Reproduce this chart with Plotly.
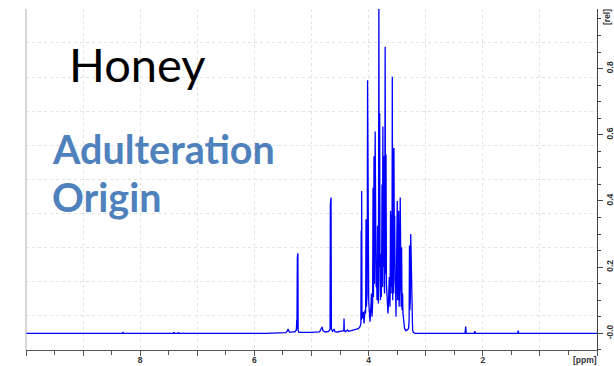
import plotly.graph_objects as go

# ---- data: 1H NMR spectrum of honey (vertices) ----
ppm = [10.00, 8.31, 8.30, 8.29, 7.42, 7.41, 7.40, 7.34, 7.33, 7.32, 5.80, 5.45,
       5.42, 5.41, 5.40, 5.38, 5.33, 5.29, 5.265, 5.258, 5.255, 5.248, 5.244, 5.238,
       5.234, 5.22, 5.10, 5.00, 4.86, 4.83, 4.815, 4.80, 4.76, 4.70, 4.675, 4.670,
       4.664, 4.658, 4.652, 4.63, 4.605, 4.59, 4.54, 4.50, 4.435, 4.430, 4.425, 4.40,
       4.37, 4.35, 4.30, 4.25, 4.21, 4.18, 4.15, 4.135, 4.130, 4.126, 4.121, 4.116,
       4.10, 4.092, 4.08, 4.063, 4.052, 4.045, 4.038, 4.025, 4.018, 4.012, 4.005, 3.998,
       3.985, 3.975, 3.96, 3.950, 3.94, 3.930, 3.922, 3.915, 3.905, 3.897, 3.885, 3.877,
       3.868, 3.860, 3.852, 3.843, 3.835, 3.828, 3.820, 3.814, 3.806, 3.800, 3.792, 3.785,
       3.778, 3.770, 3.765, 3.758, 3.750, 3.742, 3.735, 3.728, 3.720, 3.710, 3.703, 3.695,
       3.688, 3.680, 3.672, 3.660, 3.650, 3.638, 3.625, 3.615, 3.606, 3.598, 3.590, 3.585,
       3.578, 3.570, 3.562, 3.556, 3.549, 3.543, 3.535, 3.528, 3.520, 3.512, 3.505, 3.498,
       3.490, 3.480, 3.473, 3.466, 3.455, 3.446, 3.438, 3.430, 3.422, 3.414, 3.405, 3.398,
       3.385, 3.370, 3.350, 3.320, 3.300, 3.290, 3.284, 3.278, 3.270, 3.262, 3.255, 3.248,
       3.240, 3.230, 3.215, 3.19, 2.31, 2.30, 2.29, 2.15, 2.14, 2.13, 1.39, 1.38,
       1.37, 0.00]
intensity = [0.000, 0.000, 0.004, 0.000, 0.000, 0.003, 0.000, 0.000, 0.003, 0.000, 0.000, 0.002,
             0.008, 0.013, 0.008, 0.003, 0.004, 0.004, 0.010, 0.040, 0.012, 0.228, 0.015, 0.242,
             0.008, 0.003, 0.002, 0.003, 0.004, 0.012, 0.019, 0.008, 0.004, 0.006, 0.012, 0.388,
             0.020, 0.410, 0.012, 0.006, 0.013, 0.005, 0.004, 0.006, 0.008, 0.045, 0.008, 0.005,
             0.010, 0.006, 0.008, 0.010, 0.013, 0.014, 0.020, 0.030, 0.310, 0.040, 0.430, 0.045,
             0.050, 0.065, 0.030, 0.070, 0.060, 0.345, 0.080, 0.120, 0.765, 0.300, 0.665, 0.100,
             0.060, 0.035, 0.080, 0.120, 0.050, 0.090, 0.440, 0.110, 0.535, 0.150, 0.610, 0.210,
             0.140, 0.170, 0.100, 0.325, 0.120, 0.090, 1.000, 0.200, 0.665, 0.170, 0.100, 0.240,
             0.110, 0.250, 0.450, 0.140, 0.625, 0.200, 0.535, 0.150, 0.120, 0.866, 0.180, 0.540,
             0.150, 0.130, 0.100, 0.060, 0.100, 0.170, 0.080, 0.370, 0.120, 0.360, 0.140, 0.775,
             0.100, 0.560, 0.120, 0.560, 0.200, 0.355, 0.160, 0.140, 0.050, 0.210, 0.120, 0.400,
             0.100, 0.170, 0.370, 0.080, 0.140, 0.410, 0.100, 0.080, 0.260, 0.070, 0.120, 0.060,
             0.035, 0.015, 0.008, 0.010, 0.015, 0.040, 0.265, 0.070, 0.100, 0.300, 0.230, 0.120,
             0.040, 0.010, 0.002, 0.000, 0.000, 0.020, 0.000, 0.000, 0.006, 0.000, 0.000, 0.008,
             0.000, 0.000]

x_tick_vals = [10, 9, 8, 7, 6, 5, 4, 3, 2, 1, 0]
x_tick_text = ["", "", "8", "", "6", "", "4", "", "2", "", ""]
y_tick_vals = [0.0, 0.2, 0.4, 0.6, 0.8]
y_tick_text = ["-0.0", "0.2", "0.4", "0.6", "0.8"]
grid_levels = [0, 1, 2, 3, 4, 5, 6, 7, 8]

W, H = 614, 366
L, R, T, B = 26, 17, 9, 16
pw, ph = W - L - R, H - T - B

def px(xp):
    return (xp - L) / pw

def py(yp):
    return (H - B - yp) / ph

tick_font = dict(family="Liberation Sans", size=8.5, color="#333333", weight="bold")
grid_color = "#e3e3e3"

fig = go.Figure()
# invisible trace carrying the independent horizontal grid
fig.add_trace(go.Scatter(x=[5], y=[0], yaxis="y2", mode="markers",
                         marker=dict(opacity=0), hoverinfo="skip", showlegend=False))
fig.add_trace(go.Scatter(x=ppm, y=intensity, mode="lines",
                         line=dict(color="#0000FF", width=1.3), showlegend=False))

fig.update_layout(
    template="none",
    width=W, height=H, margin=dict(l=L, r=R, t=T, b=B, autoexpand=False),
    paper_bgcolor="white", plot_bgcolor="white",
    xaxis=dict(range=[10, 0], automargin=False, tickmode="array",
               tickvals=x_tick_vals, ticktext=x_tick_text, ticklabelstandoff=-3,
               showgrid=True, gridcolor=grid_color, griddash="dot", gridwidth=1,
               zeroline=False, showline=True, linecolor="#555555", linewidth=1,
               ticks="outside", ticklen=5, tickcolor="#555555", tickfont=tick_font,
               minor=dict(tickmode="linear", tick0=0, dtick=0.5, ticks="outside", ticklen=4,
                          tickcolor="#555555", showgrid=False)),
    yaxis=dict(range=[-0.0505, 0.98], automargin=False, side="right", tickmode="array",
               tickvals=y_tick_vals, ticktext=y_tick_text, tickangle=-90,
               showgrid=False, zeroline=False, showline=True, linecolor="#444444", linewidth=1,
               ticks="outside", ticklen=5, tickcolor="#444444", tickfont=tick_font,
               minor=dict(tickmode="linear", tick0=0, dtick=0.05, ticks="outside", ticklen=3,
                          tickcolor="#444444", showgrid=False)),
    yaxis2=dict(overlaying="y", side="left", automargin=False, range=[-0.997, 8.994],
                tickmode="array", tickvals=grid_levels, showticklabels=False, ticks="",
                showgrid=True, gridcolor=grid_color, griddash="dot", gridwidth=1,
                zeroline=False, showline=False),
    shapes=[dict(type="line", xref="paper", yref="paper", x0=0, x1=0, y0=0, y1=1,
                 line=dict(color="#b0b0b0", width=1))],
    annotations=[
        dict(text="Honey", xref="paper", yref="paper", x=px(67), y=py(64),
             xanchor="left", yanchor="middle", showarrow=False,
             font=dict(family="Lato", size=47, color="black")),
        dict(text="Adulteration", xref="paper", yref="paper", x=px(50), y=py(148),
             xanchor="left", yanchor="middle", showarrow=False,
             font=dict(family="Lato", size=39.5, color="#4F81BD", weight="bold")),
        dict(text="Origin", xref="paper", yref="paper", x=px(50), y=py(197),
             xanchor="left", yanchor="middle", showarrow=False,
             font=dict(family="Lato", size=39.5, color="#4F81BD", weight="bold")),
        dict(text="[ppm]", xref="paper", yref="paper", x=px(585), y=py(360),
             xanchor="center", yanchor="middle", showarrow=False,
             font=tick_font),
        dict(text="[rel]", xref="paper", yref="paper", x=px(607), y=py(17),
             xanchor="center", yanchor="middle", showarrow=False, textangle=-90,
             font=tick_font),
    ],
)

fig.write_html("out.html")
